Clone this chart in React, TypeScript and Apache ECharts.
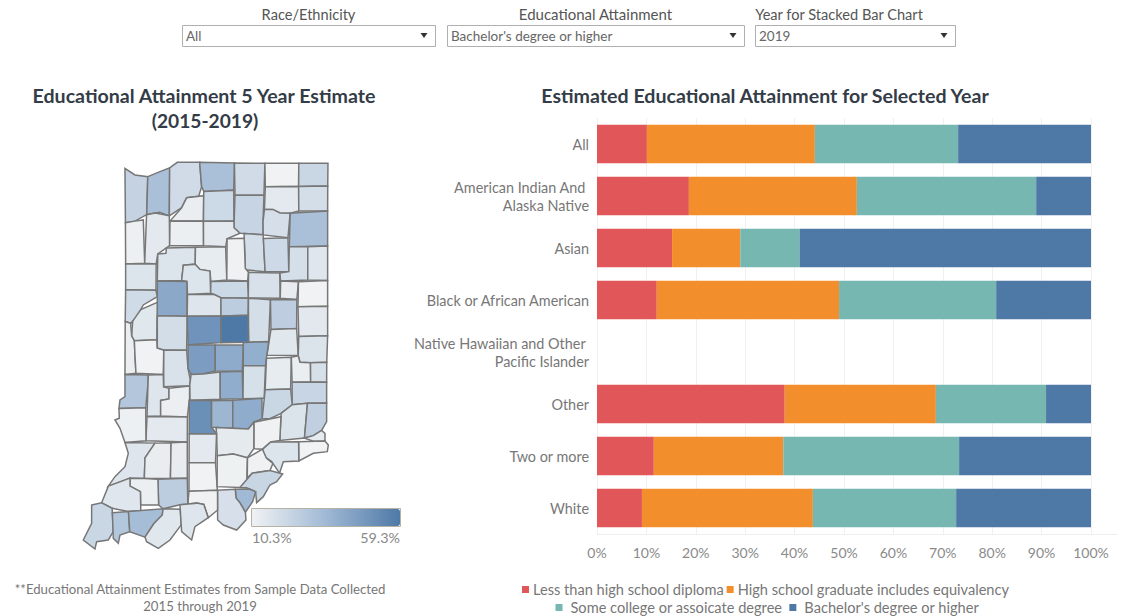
import React, { useEffect, useRef } from "react";
import * as echarts from "echarts";

const FONT = "Lato";
const categories = [
  "All",
  "American Indian And \nAlaska Native",
  "Asian",
  "Black or African American",
  "Native Hawaiian and Other \nPacific Islander",
  "Other",
  "Two or more",
  "White",
];
const seriesNames = [
  "Less than high school diploma",
  "High school graduate includes equivalency",
  "Some college or assoicate degree",
  "Bachelor's degree or higher",
];
const lessThanHS = [10.1, 18.6, 15.2, 12.1, null, 38, 11.5, 9.1];
const highSchool = [34, 34, 13.8, 36.9, null, 30.6, 26.2, 34.6];
const someCollege = [29, 36.3, 12, 31.8, null, 22.3, 35.6, 29];
const bachelors = [26.9, 11.1, 59, 19.2, null, 9.1, 26.7, 27.3];
const barColors = ["#e15759", "#f28e2b", "#76b7b2", "#4e79a7"];
const xTicks = 10;

type County = [string, number, number[]];
const northCounties: County[] = [
  ["Lake", 23.9, [135,40,165,60,200,65,200,180,165,195,135,200]],
  ["Porter", 31.8, [205,65,240,50,267,40,267,182,240,170,205,178]],
  ["LaPorte", 20, [270,38,292,22,357,22,360,70,365,95,355,115,320,125,305,155,270,180]],
  ["St. Joseph", 32, [360,22,460,22,460,100,370,108,365,95]],
  ["Elkhart", 20, [465,25,552,25,552,118,465,118]],
  ["LaGrange", 10.3, [556,25,653,25,653,92,556,92]],
  ["Steuben", 22.1, [658,25,744,25,744,90,658,90]],
  ["Starke", 12, [270,195,305,160,320,130,368,122,368,195]],
  ["Marshall", 21.2, [372,110,462,108,462,195,372,195]],
  ["Kosciusko", 23.3, [465,122,552,122,552,195,545,210,545,235,480,235,462,215]],
  ["Noble", 14.2, [556,97,653,97,653,168,632,172,600,172,580,160,556,160]],
  ["DeKalb", 19, [658,95,743,95,743,165,658,168]],
  ["Whitley", 18.7, [552,165,578,165,600,175,628,175,624,245,548,245,548,200]],
  ["Allen", 31.8, [632,175,743,170,743,270,628,272]],
  ["Newton", 11.2, [137,205,165,200,190,195,190,325,137,325]],
  ["Jasper", 14.2, [194,180,225,167,267,185,267,272,230,295,230,325,196,325]],
  ["Pulaski", 11.8, [270,200,368,200,368,272,270,272]],
  ["Fulton", 14.2, [372,200,462,200,462,220,480,235,440,250,437,272,372,272]],
  ["Wabash", 19, [492,240,552,240,552,350,492,350]],
  ["Huntington", 20.9, [557,250,624,250,624,350,557,350]],
  ["Wells", 18.5, [628,277,680,275,680,375,602,375,602,355,628,350]],
  ["Adams", 15.4, [685,275,743,275,743,373,685,375]],
  ["Benton", 16, [137,328,228,328,228,402,137,402]],
  ["White", 16.3, [235,298,258,295,258,277,343,277,343,325,310,328,305,345,305,375,232,375]],
  ["Cass", 13, [348,277,437,277,437,375,392,378,390,345,360,340,348,325]],
  ["Miami", 10.6, [442,252,487,250,490,340,503,350,503,375,442,375]],
  ["Grant", 17.6, [507,353,598,353,598,430,507,430]],
  ["Blackford", 12.7, [602,380,652,380,652,430,602,430]],
  ["Jay", 10.3, [657,380,743,378,743,452,652,452]],
  ["Carroll", 16, [310,332,345,330,360,345,390,350,390,415,322,415,322,378,305,378]],
  ["Howard", 21.5, [393,380,503,380,503,422,420,425,405,415,393,415]],
  ["Tippecanoe", 41.2, [232,380,320,380,320,480,232,480]],
  ["Warren", 20.3, [137,405,228,408,228,425,190,450,170,485,152,505,137,498]],
  ["Fountain", 14.8, [160,500,185,465,228,442,228,552,160,555,155,540]],
  ["Clinton", 15.7, [323,420,402,420,420,435,420,482,322,482]],
  ["Tipton", 26, [425,428,503,428,503,478,425,480]],
  ["Madison", 19, [508,435,568,433,568,560,508,562]],
  ["Delaware", 25.7, [573,435,650,435,650,517,573,520]],
  ["Randolph", 14.5, [655,457,743,455,743,540,655,543]],
  ["Vermillion", 12, [135,500,152,505,155,545,162,558,170,575,165,600,168,655,135,655]],
  ["Parke", 10.3, [165,558,232,555,232,580,250,585,250,655,168,655,172,615,165,600]],
  ["Montgomery", 19.4, [232,483,320,483,320,582,250,582,232,578]],
  ["Putnam", 17.3, [253,587,320,587,322,640,330,675,325,690,253,693]],
  ["Boone", 49.3, [323,487,420,487,420,565,323,568]],
  ["Hamilton", 59.3, [425,482,505,482,505,562,425,562]],
  ["Henry", 15.1, [573,525,650,522,650,600,568,602]],
  ["Wayne", 16.7, [657,545,743,543,741,620,692,620,690,623,660,620,655,600]],
];
const southCounties: County[] = [
  ["Hendricks", 45.7, [325,-15,403,-15,403,65,370,68,365,72,330,70,325,55]],
  ["Marion", 40, [407,-15,487,-15,487,62,407,62]],
  ["Hancock", 38.7, [490,-25,565,-25,560,45,490,45]],
  ["Morgan", 16.7, [335,75,365,76,370,72,418,68,418,148,335,148,327,105]],
  ["Johnson", 39.3, [422,65,487,65,487,148,422,148]],
  ["Shelby", 18.2, [490,48,555,48,555,145,490,145]],
  ["Rush", 13, [560,25,632,22,632,115,560,118]],
  ["Fayette", 12, [635,22,658,22,660,38,690,40,690,95,635,95]],
  ["Union", 18.2, [693,38,740,38,740,95,693,95]],
  ["Franklin", 22.7, [637,98,740,98,740,158,680,158,637,160]],
  ["Decatur", 22.1, [553,120,632,118,632,165,600,190,570,208,548,205]],
  ["Vigo", 29, [135,75,205,75,198,98,198,170,115,170,120,150,135,140]],
  ["Clay", 15.7, [205,75,250,75,250,112,265,115,265,145,240,150,240,198,203,198]],
  ["Owen", 11.8, [268,115,332,112,332,150,323,150,323,198,243,198,243,152,268,148]],
  ["Monroe", 50.5, [325,152,392,152,392,232,405,248,327,250]],
  ["Brown", 35.7, [396,152,455,152,455,232,396,232]],
  ["Bartholomew", 39.6, [460,150,546,150,546,207,520,215,505,235,460,237]],
  ["Ripley", 16.7, [605,190,640,165,680,160,672,265,603,270]],
  ["Dearborn", 24.8, [685,160,740,160,740,215,725,240,700,255,672,263]],
  ["Ohio", 13.3, [675,265,700,258,725,242,735,250,735,268,700,273]],
  ["Switzerland", 10.3, [658,275,735,275,745,285,742,305,700,310,660,335,655,300]],
  ["Jefferson", 16.3, [575,278,655,275,655,332,610,335,600,365,575,335,550,320,550,295]],
  ["Jennings", 10.6, [525,215,598,200,598,272,570,275,550,295,525,298]],
  ["Jackson", 13.6, [408,238,505,238,520,218,520,295,500,322,460,312,415,315,412,250]],
  ["Lawrence", 14.2, [328,253,410,253,410,335,328,335]],
  ["Greene", 14.2, [200,200,322,202,322,272,200,273]],
  ["Sullivan", 11.2, [118,178,197,175,197,272,135,272,120,235,105,210,118,205]],
  ["Knox", 15.7, [135,280,225,278,195,320,192,382,150,382,85,405,105,380,135,350,145,310]],
  ["Daviess", 12.4, [195,325,225,280,270,278,270,385,195,385]],
  ["Martin", 12.7, [275,278,322,278,322,385,272,385]],
  ["Orange", 10.3, [327,340,405,340,405,420,327,420]],
  ["Washington", 10.9, [410,318,460,312,500,322,500,410,410,410]],
  ["Scott", 10.6, [505,325,545,300,555,330,572,345,570,360,520,368,503,385]],
  ["Clark", 22.4, [480,405,515,370,570,362,608,372,590,395,570,405,550,440,530,458,525,425,500,415,478,412]],
  ["Floyd", 34.8, [468,422,510,418,528,425,518,455,495,485,480,455,468,442]],
  ["Harrison", 17.9, [420,418,465,415,468,445,480,460,497,488,498,510,470,540,430,525,413,510]],
  ["Crawford", 10.6, [327,425,412,422,412,480,385,500,375,460,352,458,327,465]],
  ["Dubois", 26, [238,388,322,385,322,462,300,462,250,475,238,465]],
  ["Pike", 11.5, [150,385,192,387,232,388,235,465,185,465,180,425,150,405]],
  ["Gibson", 15.4, [85,410,120,390,150,385,150,410,182,425,182,475,140,482,100,475,65,455]],
  ["Posey", 22.1, [35,465,65,460,95,475,97,545,85,570,50,575,45,597,10,570,35,520]],
  ["Vanderburgh", 29.4, [100,488,145,488,148,545,120,555,115,580,100,565]],
  ["Warrick", 33, [150,482,248,475,245,495,220,520,195,560,150,545]],
  ["Spencer", 15.1, [250,478,297,478,297,525,270,570,235,595,200,575,195,562,222,522,248,495]],
  ["Perry", 15.7, [300,465,350,460,370,465,385,505,345,530,335,570,305,545]],
];

type Pt = [number, number];

function toRing(c: County, ox: number, oy: number): Pt[] {
  const ring: Pt[] = [];
  for (let i = 0; i < c[2].length; i += 2) ring.push([ox + c[2][i] / 3, oy + c[2][i + 1] / 3]);
  return ring;
}

// The traced outlines leave a hairline between neighbours: close it so that counties share borders.
function closeGaps(rings: Pt[][]) {
  const near = 3;
  const dist = (a: Pt, b: Pt) => Math.hypot(a[0] - b[0], a[1] - b[1]);
  for (let pass = 0; pass < 2; pass++) {
    rings.forEach((ring, r) => {
      ring.forEach((p, i) => {
        let sx = p[0], sy = p[1], n = 1;
        rings.forEach((other, o) => {
          if (o === r) return;
          other.forEach((q) => {
            if (dist(p, q) < near) { sx += q[0]; sy += q[1]; n++; }
          });
        });
        ring[i] = [sx / n, sy / n];
      });
    });
  }
  rings.forEach((ring, r) => {
    ring.forEach((p, i) => {
      let best: Pt | null = null;
      let bestD = near;
      rings.forEach((other, o) => {
        if (o === r) return;
        other.forEach((a, k) => {
          const b = other[(k + 1) % other.length];
          const dx = b[0] - a[0], dy = b[1] - a[1];
          const t = Math.max(0, Math.min(1, ((p[0] - a[0]) * dx + (p[1] - a[1]) * dy) / (dx * dx + dy * dy || 1)));
          const q: Pt = [a[0] + t * dx, a[1] + t * dy];
          const d = dist(p, q);
          if (d < bestD) { bestD = d; best = q; }
        });
      });
      if (best) ring[i] = best;
    });
  });
}

const rings: Pt[][] = [
  ...northCounties.map((c) => toRing(c, 80, 155)),
  ...southCounties.map((c) => toRing(c, 80, 350)),
];
closeGaps(rings);
const allCounties = [...northCounties, ...southCounties];

const geoJson = {
  type: "FeatureCollection",
  features: allCounties.map((c, i) => ({
    type: "Feature",
    properties: { name: c[0] },
    geometry: {
      type: "Polygon",
      coordinates: [[...rings[i], rings[i][0]].map((p) => [p[0], -p[1]])],
    },
  })),
};
const countyValues = allCounties.map((c) => ({ name: c[0], value: c[1] }));
const mapMin = 10.3;
const mapMax = 59.3;
const filters = [
  { label: "Race/Ethnicity", value: "All", x: 182, w: 253, labelX: 308.5, labelSize: 14.6 },
  { label: "Educational Attainment", value: "Bachelor's degree or higher", x: 447, w: 297, labelX: 595.5, labelSize: 15 },
  { label: "Year for Stacked Bar Chart", value: "2019", x: 755, w: 200, labelX: 839, labelSize: 14.6 },
];

function text(x: number, y: number, t: string, size: number, color: string, align = "center", weight = "normal") {
  return {
    type: "text",
    x,
    y,
    silent: true,
    style: { text: t, fontSize: size, fontFamily: FONT, fill: color, align, verticalAlign: "middle", fontWeight: weight },
  };
}

export default function App() {
  const ref = useRef<HTMLDivElement>(null);
  useEffect(() => {
    document.body.style.margin = "0";
    echarts.registerMap("indiana", geoJson as any);
    const chart = echarts.init(ref.current!, null, { renderer: "svg" });
    const graphic: any[] = [
      text(204, 95.5, "Educational Attainment 5 Year Estimate", 19.6, "#333c47", "center", "bold"),
      text(205, 120.5, "(2015-2019)", 19.2, "#333c47", "center", "bold"),
      text(765, 95.5, "Estimated Educational Attainment for Selected Year", 19.6, "#333c47", "center", "bold"),
      text(200, 589, "**Educational Attainment Estimates from Sample Data Collected", 13.2, "#777"),
      text(200, 606, "2015 through 2019", 13.2, "#777"),
      text(252, 537, "10.3%", 14.3, "#888", "left"),
      text(400, 537, "59.3%", 14.3, "#888", "right"),
      {
        type: "rect",
        shape: { x: 251.5, y: 508.5, width: 149, height: 18 },
        silent: true,
        z: 10,
        style: { fill: "transparent", stroke: "#b5b2a5", lineWidth: 1 },
      },
      {
        type: "line",
        shape: { x1: 597, y1: 534.5, x2: 1117, y2: 534.5 },
        silent: true,
        style: { stroke: "#eee", lineWidth: 1 },
      },
    ];
    filters.forEach((f) => {
      graphic.push(text(f.labelX, 14, f.label, f.labelSize, "#555"));
      graphic.push({
        type: "rect",
        shape: { x: f.x + 0.5, y: 25.5, width: f.w, height: 21 },
        silent: true,
        style: { fill: "#fff", stroke: "#b0b0b0", lineWidth: 1 },
      });
      graphic.push(text(f.x + 4, 35.5, f.value, 13.5, "#666", "left"));
      const ax = f.x + f.w - 11;
      graphic.push({
        type: "polygon",
        shape: { points: [[ax - 3.5, 33], [ax + 3.5, 33], [ax, 38]] },
        silent: true,
        style: { fill: "#333" },
      });
    });
    const barData = [lessThanHS, highSchool, someCollege, bachelors];
    chart.setOption({
      animation: false,
      textStyle: { fontFamily: FONT },
      grid: { left: 597, top: 118, width: 494, height: 416, containLabel: false },
      xAxis: {
        type: "value",
        min: 0,
        max: 100,
        interval: xTicks,
        axisLine: { show: false },
        axisTick: { show: false },
        splitLine: { show: true, lineStyle: { color: "#f0f0f0" } },
        axisLabel: { formatter: "{value}%", color: "#8a8a8a", fontSize: 14, margin: 11, fontFamily: FONT },
      },
      yAxis: {
        type: "category",
        inverse: true,
        data: categories,
        axisLine: { show: false },
        axisTick: { show: false },
        axisLabel: { color: "#777", fontSize: 14.4, margin: 8, lineHeight: 18, align: "right", padding: [2, 0, 0, 0], fontFamily: FONT },
      },
      legend: [
        {
          data: [seriesNames[0], seriesNames[1]],
          left: 522,
          top: 582,
          padding: 0,
          icon: "rect",
          itemWidth: 7,
          itemHeight: 7,
          itemGap: 3,
          selectedMode: false,
          textStyle: { color: "#777", fontSize: 14.6, padding: [0, 0, 0, -1], fontFamily: FONT },
        },
        {
          data: [seriesNames[2], seriesNames[3]],
          left: 555.5,
          top: 600,
          padding: 0,
          icon: "rect",
          itemWidth: 7,
          itemHeight: 7,
          itemGap: 7,
          selectedMode: false,
          textStyle: { color: "#777", fontSize: 14.6, padding: [0, 0, 0, 3], fontFamily: FONT },
        },
      ],
      visualMap: {
        type: "continuous",
        seriesIndex: 4,
        min: mapMin,
        max: mapMax,
        orient: "horizontal",
        left: 252,
        top: 509,
        padding: 0,
        itemWidth: 17,
        itemHeight: 148,
        text: ["", ""],
        showLabel: false,
        calculable: false,
        hoverLink: false,
        realtime: false,
        inRange: { color: ["#f0f2f3", "#a0b9d5", "#4e79a7"] },
      },
      series: [
        ...barData.map((d, i) => ({
          type: "bar",
          name: seriesNames[i],
          stack: "total",
          data: d,
          barWidth: 38.5,
          silent: true,
          itemStyle: { color: barColors[i] },
        })),
        {
          type: "map",
          map: "indiana",
          aspectScale: 1,
          left: 83.3,
          top: 162.3,
          width: 245,
          height: 386.7,
          roam: false,
          silent: true,
          showLegendSymbol: false,
          label: { show: false },
          itemStyle: { borderColor: "#777", borderWidth: 1.5 },
          data: countyValues,
        },
      ],
      graphic,
    });
    return () => chart.dispose();
  }, []);
  return <div ref={ref} style={{ position: "fixed", left: 0, top: 0, width: 1144, height: 616, background: "#fff" }} />;
}
